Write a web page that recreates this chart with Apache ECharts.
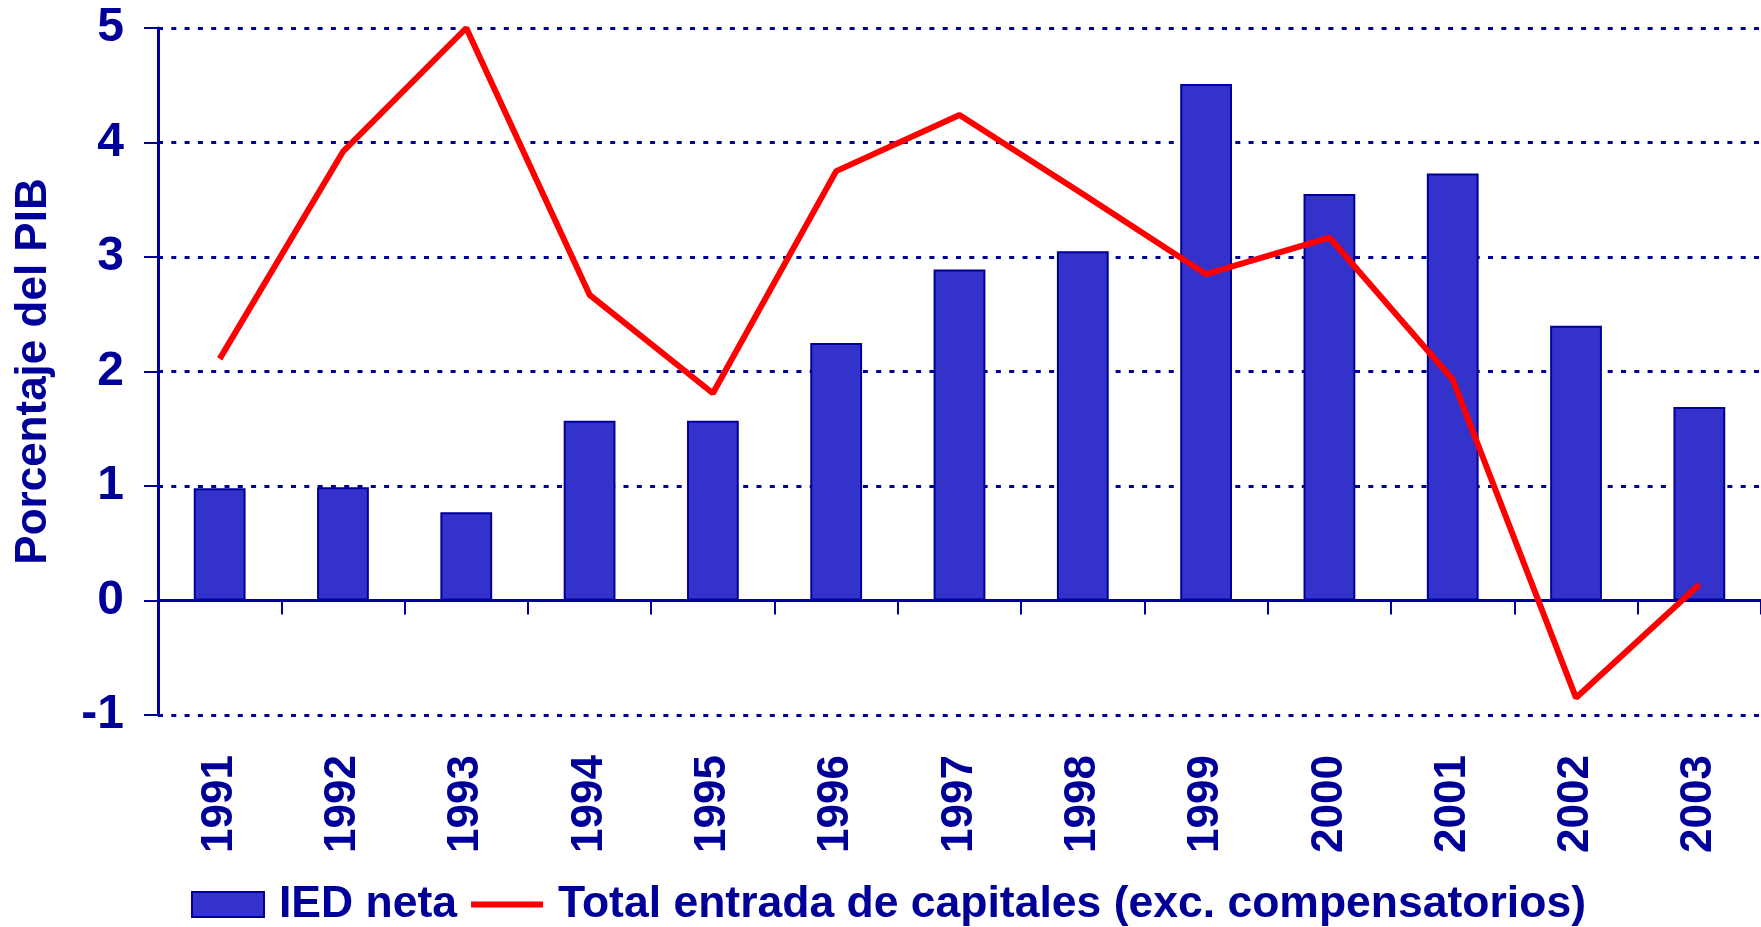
<!DOCTYPE html>
<html>
<head>
<meta charset="utf-8">
<script src="https://cdn.jsdelivr.net/npm/echarts@6/dist/echarts.min.js"></script>
<style>
  html, body { margin: 0; padding: 0; background: #fff; }
  #chart { width: 1761px; height: 927px; }
</style>
</head>
<body>
<div id="chart"></div>
<script>
// years on the category axis
const years = ["1991", "1992", "1993", "1994", "1995", "1996", "1997", "1998", "1999", "2000", "2001", "2002", "2003"];
// IED neta (bars), % del PIB
const iedNeta = [0.98, 0.99, 0.77, 1.57, 1.57, 2.25, 2.89, 3.05, 4.51, 3.55, 3.73, 2.40, 1.69];
// Total entrada de capitales (line), % del PIB
const totalEntrada = [2.11, 3.92, 5.0, 2.67, 1.81, 3.75, 4.24, 3.55, 2.85, 3.17, 1.93, -0.85, 0.14];

const navy = "#000099";
const font = "'Liberation Sans', Arial, sans-serif";
const lineName = "Total entrada de capitales (exc. compensatorios)";

const chart = echarts.init(document.getElementById("chart"), null, { renderer: "canvas" });

chart.setOption({
  backgroundColor: "#ffffff",
  animation: false,
  grid: { left: 158, right: 0, top: 28, bottom: 212 },
  legend: {
    left: 191,
    top: 882,
    padding: 0,
    itemWidth: 72,
    itemHeight: 25,
    itemGap: 14,
    textStyle: { color: navy, fontSize: 44.5, fontWeight: "bold", fontFamily: font, padding: [0, 0, 0, 10] },
    data: [
      { name: "IED neta", icon: "rect" },
      // plain thick line, no marker (empty points keep the 72x25 box)
      { name: lineName, icon: "path://M0,0L0,0 M0,9.5L72,9.5L72,15.5L0,15.5Z M72,25L72,25" }
    ]
  },
  xAxis: [
    {
      type: "category",
      data: years,
      axisLine: { show: false, onZero: false },
      axisTick: { show: false },
      splitLine: { show: false },
      axisLabel: {
        rotate: 90,
        margin: 40,
        color: navy,
        fontSize: 44,
        fontWeight: "bold",
        fontFamily: font
      }
    },
    {
      type: "category",
      data: years,
      position: "bottom",
      axisLine: { show: true, onZero: true, lineStyle: { color: navy, width: 3 } },
      axisTick: { show: true, length: 14, lineStyle: { color: navy, width: 2 } },
      axisLabel: { show: false },
      splitLine: { show: false }
    }
  ],
  yAxis: {
    type: "value",
    min: -1,
    max: 5,
    interval: 1,
    name: "Porcentaje del PIB",
    nameLocation: "middle",
    nameGap: 102,
    nameTextStyle: { color: navy, fontSize: 44, fontWeight: "bold", fontFamily: font },
    axisLine: { show: true, lineStyle: { color: navy, width: 3 } },
    axisTick: { show: true, length: 14, lineStyle: { color: navy, width: 2 } },
    axisLabel: { margin: 34, color: navy, fontSize: 48, fontWeight: "bold", fontFamily: font },
    splitLine: { show: true, lineStyle: { color: navy, width: 3, type: [5, 8.3] } }
  },
  series: [
    {
      name: "IED neta",
      type: "bar",
      xAxisIndex: 0,
      data: iedNeta,
      barWidth: "42%",
      itemStyle: { color: "#3333CC", borderColor: navy, borderWidth: 2 }
    },
    {
      name: lineName,
      type: "line",
      xAxisIndex: 0,
      data: totalEntrada,
      symbol: "none",
      lineStyle: { color: "#FF0000", width: 6 },
      itemStyle: { color: "#FF0000" }
    }
  ]
});
</script>
</body>
</html>
